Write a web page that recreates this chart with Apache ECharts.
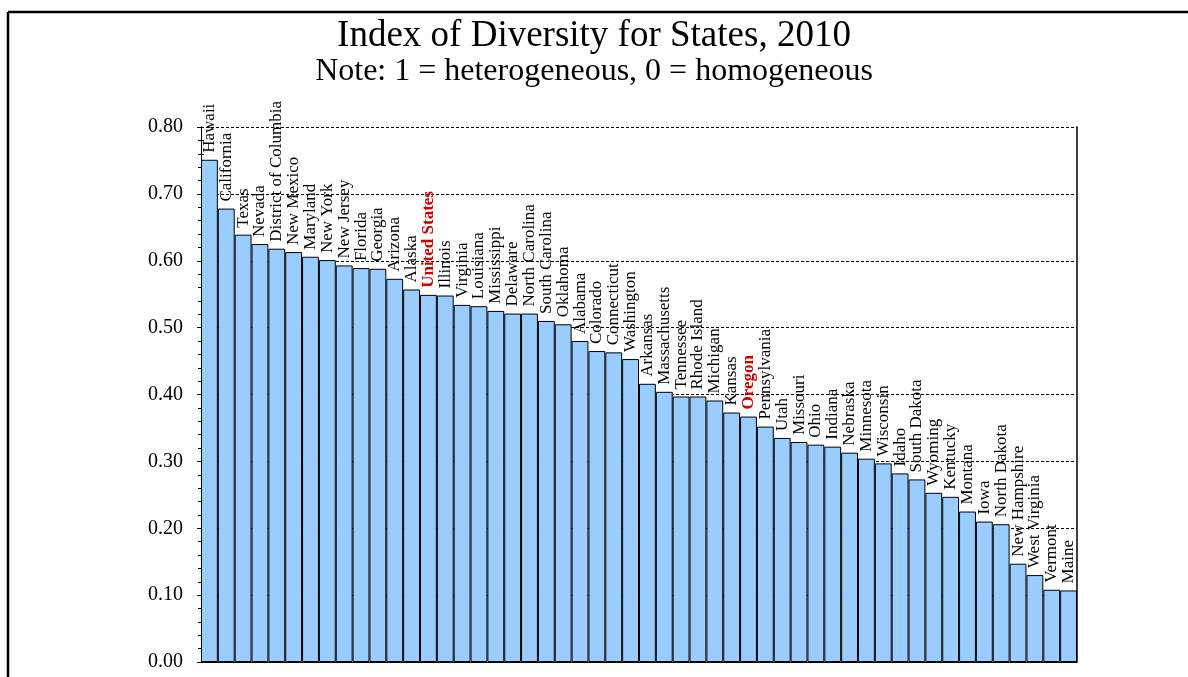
<!DOCTYPE html>
<html>
<head>
<meta charset="utf-8">
<script src="https://cdn.jsdelivr.net/npm/echarts@6/dist/echarts.min.js"></script>
<style>html,body{margin:0;padding:0;background:#fff;}#c{width:1188px;height:677px;}</style>
</head>
<body>
<div id="c"></div>
<script>
const states = ['Hawaii','California','Texas','Nevada','District of Columbia','New Mexico','Maryland','New York','New Jersey','Florida','Georgia','Arizona','Alaska','United States','Illinois','Virginia','Louisiana','Mississippi','Delaware','North Carolina','South Carolina','Oklahoma','Alabama','Colorado','Connecticut','Washington','Arkansas','Massachusetts','Tennessee','Rhode Island','Michigan','Kansas','Oregon','Pennsylvania','Utah','Missouri','Ohio','Indiana','Nebraska','Minnesota','Wisconsin','Idaho','South Dakota','Wyoming','Kentucky','Montana','Iowa','North Dakota','New Hampshire','West Virginia','Vermont','Maine'];
const diversityIndex = [0.751,0.678,0.639,0.625,0.618,0.613,0.606,0.601,0.593,0.589,0.588,0.573,0.557,0.549,0.548,0.534,0.532,0.525,0.521,0.521,0.510,0.505,0.480,0.465,0.463,0.453,0.416,0.404,0.397,0.397,0.391,0.373,0.367,0.352,0.335,0.329,0.325,0.322,0.313,0.304,0.297,0.282,0.273,0.253,0.247,0.225,0.210,0.206,0.147,0.130,0.108,0.107];
const highlighted = ['United States','Oregon'];
const yTicks = [0,0.1,0.2,0.3,0.4,0.5,0.6,0.7,0.8];
const titleText = 'Index of Diversity for States, 2010';
const subtitleText = 'Note: 1 = heterogeneous, 0 = homogeneous';

const FONT = 'Liberation Serif';
const chart = echarts.init(document.getElementById('c'), null, {renderer:'canvas'});
const seriesData = diversityIndex.map((v,i) => highlighted.includes(states[i])
  ? {value:v, label:{color:'#d00000', fontWeight:'bold'}}
  : {value:v});
const yMin = yTicks[0], yMax = yTicks[yTicks.length-1], yInt = yTicks[1]-yTicks[0];
chart.setOption({
  animation:false,
  backgroundColor:'#fff',
  title:[
    {text:titleText, left:'center', top:17, padding:0, textStyle:{fontFamily:FONT, fontSize:37, fontWeight:'normal', color:'#000', lineHeight:38}},
    {text:subtitleText, left:'center', top:55, padding:0, textStyle:{fontFamily:FONT, fontSize:32, fontWeight:'normal', color:'#000', lineHeight:34}}
  ],
  graphic:[
    {type:'line', shape:{x1:8, y1:12, x2:1188, y2:12}, style:{stroke:'#000', lineWidth:2.5}, silent:true, z:100},
    {type:'line', shape:{x1:8, y1:12, x2:8, y2:677}, style:{stroke:'#000', lineWidth:2.5}, silent:true, z:100}
  ],
  grid:{left:201, right:111, top:127, bottom:15, containLabel:false},
  xAxis:{type:'category', data:states, boundaryGap:true,
    axisLine:{show:true, lineStyle:{color:'#000', width:1}}, axisTick:{show:false}, axisLabel:{show:false}, splitLine:{show:false}},
  yAxis:[
    {type:'value', min:yMin, max:yMax, interval:yInt, position:'left',
      axisLine:{show:true, lineStyle:{color:'#000', width:1}},
      axisTick:{show:true, length:4, lineStyle:{color:'#000'}},
      minorTick:{show:true, splitNumber:5, length:3, lineStyle:{color:'#000'}},
      axisLabel:{formatter:v=>v.toFixed(2), fontFamily:FONT, fontSize:20, color:'#000', margin:18},
      splitLine:{show:true, lineStyle:{color:'#000', width:1, type:[3,2]}}},
    {type:'value', min:yMin, max:yMax, interval:yInt, position:'left', offset:0,
      axisLine:{show:false}, axisLabel:{show:false}, splitLine:{show:false},
      axisTick:{show:true, inside:true, length:3, lineStyle:{color:'#000'}},
      minorTick:{show:true, splitNumber:5, length:3, lineStyle:{color:'#000'}}},
    {type:'value', min:yMin, max:yMax, interval:yInt, position:'right',
      axisLine:{show:true, lineStyle:{color:'#000', width:1.5}}, axisTick:{show:false}, axisLabel:{show:false}, splitLine:{show:false}}
  ],
  series:[{type:'bar', data:seriesData, barCategoryGap:'0%', yAxisIndex:0,
    itemStyle:{color:'#99ccff', borderColor:'#000', borderWidth:1},
    label:{show:true, position:'top', rotate:90, align:'left', verticalAlign:'middle', distance:7,
      formatter:p=>p.name, fontFamily:FONT, fontSize:17, color:'#000'}}]
});
</script>
</body>
</html>
